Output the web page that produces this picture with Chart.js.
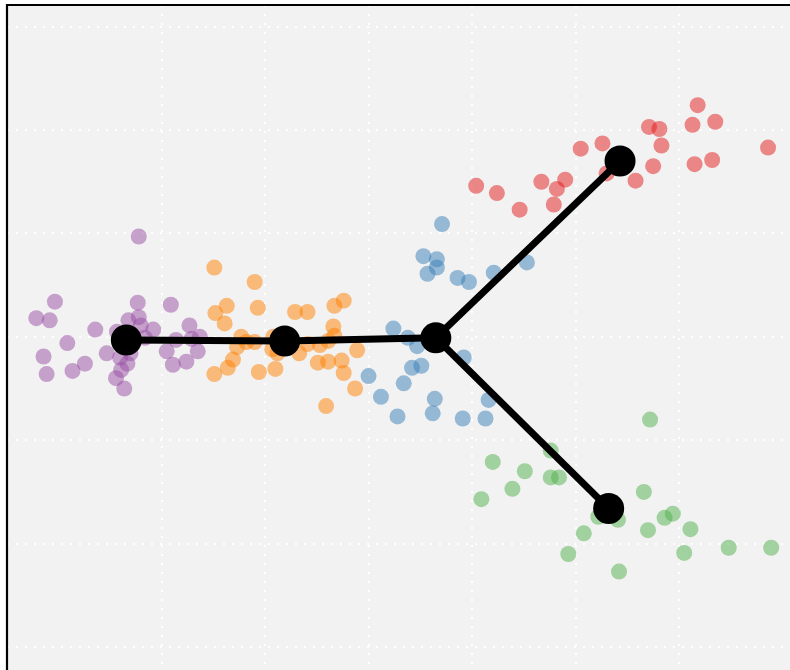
<!DOCTYPE html>
<html>
<head>
<meta charset="utf-8">
<script src="https://cdn.jsdelivr.net/npm/chart.js@4/dist/chart.umd.min.js"></script>
<style>
  html, body { margin: 0; padding: 0; background: #ffffff; }
  #wrap { width: 790px; height: 670px; }
</style>
</head>
<body>
<div id="wrap"><canvas id="c" width="790" height="670"></canvas></div>
<script>
// Cells coloured by cluster, in embedding coordinates
const redX = [4.04,4.24,4.46,4.67,4.82,4.90,4.79,5.05,5.26,5.30,5.58,5.71,5.81,5.83,5.75,6.18,6.13,6.35,6.15,6.32,6.86];
const redY = [4.46,4.39,4.23,4.50,4.43,4.52,4.28,4.82,4.87,4.58,4.51,5.03,5.01,4.85,4.65,5.24,5.05,5.08,4.67,4.71,4.83];

const blueX = [3.71,3.53,3.66,3.57,3.66,3.86,3.97,4.21,4.53,3.24,3.38,3.47,3.92,3.42,3.51,3.00,3.34,3.12,3.64,4.16,3.28,3.62,3.91,4.13];
const blueY = [4.09,3.78,3.75,3.61,3.67,3.57,3.53,3.62,3.72,3.08,2.99,2.91,2.80,2.70,2.72,2.62,2.55,2.42,2.40,2.39,2.23,2.26,2.21,2.21];

const orangeX = [1.51,1.90,1.63,1.52,1.93,1.61,2.29,2.41,2.67,2.76,2.66,2.67,1.77,1.82,1.90,2.08,1.73,1.69,1.64,1.51,1.94,2.10,2.07,2.12,2.33,2.41,2.53,2.61,2.89,2.51,2.61,2.74,2.76,2.87,2.59];
const orangeY = [3.67,3.53,3.30,3.23,3.28,3.13,3.24,3.24,3.30,3.35,3.10,3.01,3.00,2.95,2.95,3.00,2.90,2.78,2.70,2.64,2.66,2.69,2.88,2.84,2.84,2.93,2.92,2.96,2.87,2.75,2.76,2.77,2.65,2.50,2.33];

const purpleX = [0.78,-0.03,-0.21,-0.08,0.77,1.09,0.36,0.68,0.78,0.80,0.92,1.27,0.09,-0.14,-0.11,0.14,0.26,0.47,0.57,0.84,1.14,1.29,1.37,1.05,1.35,1.11,1.24,0.67,0.61,0.56,0.64,0.70,0.60];
const purpleY = [3.97,3.34,3.18,3.16,3.33,3.31,3.07,3.16,3.19,3.11,3.07,3.11,2.94,2.81,2.64,2.67,2.74,2.84,3.05,2.99,2.97,2.98,3.00,2.86,2.86,2.73,2.76,2.74,2.68,2.60,2.50,2.84,2.80];

const greenX = [5.72,4.76,4.20,4.51,4.76,4.84,4.39,4.09,5.66,5.22,5.41,5.86,5.94,5.70,6.11,5.08,4.93,5.42,6.05,6.48,6.89];
const greenY = [2.20,1.90,1.79,1.70,1.64,1.64,1.53,1.43,1.50,1.26,1.23,1.25,1.29,1.13,1.14,1.10,0.90,0.73,0.91,0.96,0.96];

// Cluster centres (trajectory nodes) and the edges joining them
const nodeX = [0.66, 2.19, 3.65, 5.43, 5.32];
const nodeY = [2.97, 2.96, 2.99, 4.70, 1.34];
const edges = [[0, 1, 2, 3], [2, 4]];

const xRange = [-0.493, 7.072];
const yRange = [-0.222, 6.209];

const pts = (xs, ys) => xs.map((x, i) => ({ x: x, y: ys[i] }));

function cloud(xs, ys, rgb) {
  return {
    type: 'scatter',
    data: pts(xs, ys),
    pointRadius: 8,
    pointHoverRadius: 8,
    pointBorderWidth: 0,
    backgroundColor: 'rgba(' + rgb + ',0.5)',
    borderColor: 'rgba(0,0,0,0)',
    order: 3
  };
}

const datasets = [
  cloud(purpleX, purpleY, '152,78,163'),
  cloud(orangeX, orangeY, '255,127,0'),
  cloud(blueX, blueY, '55,126,184'),
  cloud(redX, redY, '228,26,28'),
  cloud(greenX, greenY, '77,175,74')
];

edges.forEach(path => {
  datasets.push({
    type: 'line',
    data: path.map(i => ({ x: nodeX[i], y: nodeY[i] })),
    borderColor: '#000000',
    borderWidth: 7,
    pointRadius: 0,
    fill: false,
    tension: 0,
    order: 2
  });
});

datasets.push({
  type: 'scatter',
  data: pts(nodeX, nodeY),
  pointRadius: 15.5,
  pointHoverRadius: 15.5,
  pointBorderWidth: 0,
  backgroundColor: '#000000',
  order: 1
});

// Grey panel with a black frame on its left and top edges
const panel = {
  id: 'panel',
  beforeDraw(chart) {
    const a = chart.chartArea, ctx = chart.ctx;
    ctx.save();
    ctx.fillStyle = '#f2f2f2';
    ctx.fillRect(a.left, a.top, a.right - a.left, a.bottom - a.top);
    ctx.restore();
  },
  afterDraw(chart) {
    const a = chart.chartArea, ctx = chart.ctx;
    ctx.save();
    ctx.strokeStyle = '#000000';
    ctx.lineWidth = 2.2;
    ctx.beginPath();
    ctx.moveTo(a.left, a.bottom);
    ctx.lineTo(a.left, a.top);
    ctx.lineTo(a.right, a.top);
    ctx.stroke();
    ctx.restore();
  }
};

const intTicks = scale => {
  scale.ticks = scale.ticks.filter(t => Math.abs(t.value - Math.round(t.value)) < 1e-9);
};

const axis = (range) => ({
  type: 'linear',
  min: range[0],
  max: range[1],
  ticks: { display: false, stepSize: 1, padding: 0 },
  grid: { color: 'rgba(255,255,255,0.95)', lineWidth: 2, drawTicks: false },
  border: { display: false, dash: [2, 7] },
  afterBuildTicks: intTicks
});

new Chart(document.getElementById('c'), {
  data: { datasets: datasets },
  options: {
    responsive: false,
    animation: false,
    layout: { autoPadding: false, padding: { left: 7, top: 5, right: 0, bottom: 0 } },
    plugins: { legend: { display: false }, tooltip: { enabled: false } },
    scales: {
      x: axis(xRange),
      y: axis(yRange)
    }
  },
  plugins: [panel]
});
</script>
</body>
</html>
